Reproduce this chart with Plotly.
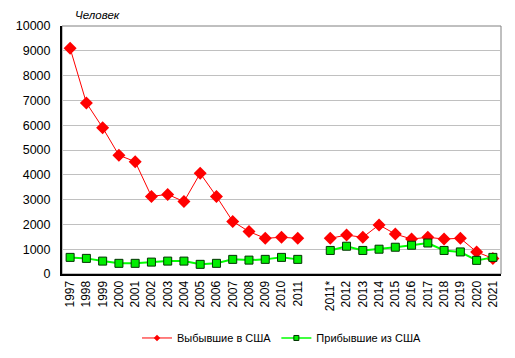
import plotly.graph_objects as go

categories = ["1997", "1998", "1999", "2000", "2001", "2002", "2003", "2004", "2005",
              "2006", "2007", "2008", "2009", "2010", "2011", " ",
              "2011*", "2012", "2013", "2014", "2015", "2016", "2017", "2018",
              "2019", "2020", "2021"]
departed = [9100, 6900, 5900, 4790, 4530, 3130, 3210, 2920, 4060, 3130, 2120, 1710,
            1440, 1480, 1440, None,
            1440, 1570, 1480, 1980, 1610, 1410, 1480, 1410, 1440, 890, 630]
arrived = [670, 630, 520, 430, 430, 480, 520, 520, 390, 430, 590, 560,
           590, 670, 590, None,
           950, 1120, 950, 1000, 1080, 1160, 1250, 950, 890, 550, 670]
y_ticks = list(range(0, 10001, 1000))
y_labels = [str(v) for v in y_ticks]
series_names = ["Выбывшие в США", "Прибывшие из США"]

font = "Liberation Sans, Arial, sans-serif"

red_line = dict(color="#ff0000", width=1)
green_line = dict(color="#00ff00", width=2)

fig = go.Figure()
fig.add_trace(go.Scatter(
    x=categories, y=departed, name=series_names[0], mode="lines+markers",
    line=red_line, showlegend=False,
    marker=dict(symbol="diamond", size=10, color="#ff0000", line=dict(width=0)),
    connectgaps=False))
fig.add_trace(go.Scatter(
    x=categories, y=arrived, name=series_names[1], mode="lines+markers",
    line=green_line, showlegend=False,
    marker=dict(symbol="square", size=8, color="#00ee00", line=dict(width=1, color="#003300")),
    connectgaps=False))
# legend entries with the small legend symbols
fig.add_trace(go.Scatter(
    x=[None], y=[None], name=series_names[0], mode="lines+markers", line=red_line,
    marker=dict(symbol="diamond", size=5, color="#ff0000", line=dict(width=0))))
fig.add_trace(go.Scatter(
    x=[None], y=[None], name=series_names[1], mode="lines+markers", line=dict(color="#00ff00", width=1.5),
    marker=dict(symbol="square", size=5, color="#00ee00", line=dict(width=1, color="#003300"))))

fig.add_shape(type="rect", xref="paper", yref="paper", x0=0, x1=1, y0=0, y1=1,
              line=dict(color="#808080", width=1), layer="below")

fig.update_layout(
    width=507, height=350,
    margin=dict(l=54, r=14, t=18, b=84, autoexpand=False),
    paper_bgcolor="white", plot_bgcolor="white",
    font=dict(family=font, size=12, color="black"),
    showlegend=True,
    legend=dict(orientation="h", x=0.5, xanchor="center", y=-0.258, yanchor="middle",
                font=dict(size=11), itemwidth=30),
    xaxis=dict(type="category", categoryorder="array", categoryarray=categories,
               tickangle=-90, showgrid=False, showline=True, linecolor="black",
               linewidth=2, ticks="", tickfont=dict(size=12), range=[-0.5, 26.5],
               automargin=False),
    yaxis=dict(range=[0, 10000], tickvals=y_ticks, ticktext=y_labels, showgrid=True,
               gridcolor="#c0c0c0", gridwidth=1, showline=True, linecolor="black",
               linewidth=2, ticks="", zeroline=False, tickfont=dict(size=12.5),
               ticklabelstandoff=7, automargin=False),
    annotations=[dict(text="<i>Человек</i>", xref="paper", yref="paper", x=0.025, y=1.044,
                      xanchor="left", yanchor="middle", showarrow=False,
                      font=dict(size=11.5, color="black"))],
)

fig.write_html("out.html")
